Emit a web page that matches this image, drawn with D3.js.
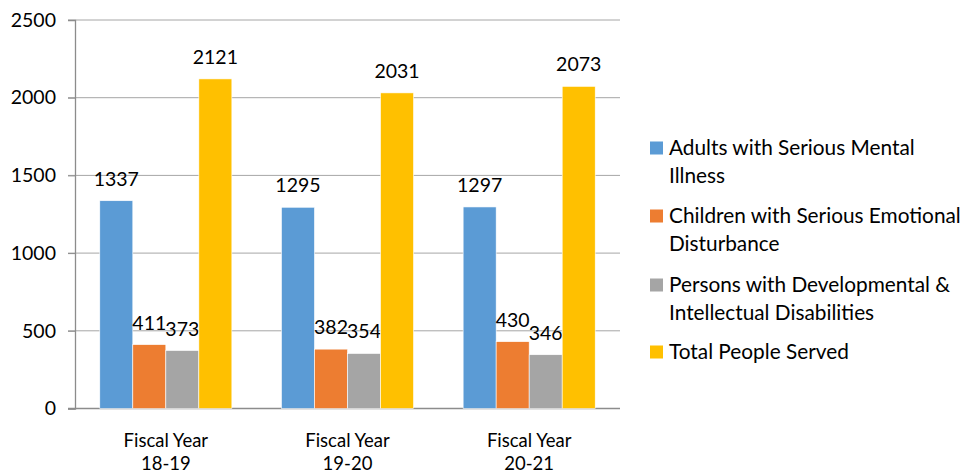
<!DOCTYPE html>
<html>
<head>
<meta charset="utf-8">
<script src="https://cdn.jsdelivr.net/npm/d3@7"></script>
<style>
  body { margin: 0; background: #fff; }
  text { font-family: Lato, "Open Sans", sans-serif; fill: #000; }
</style>
</head>
<body>
<script>
// data
var categories = [["Fiscal Year", "18-19"], ["Fiscal Year", "19-20"], ["Fiscal Year", "20-21"]];
var seriesNames = [
    ["Adults with Serious Mental", "Illness"],
    ["Children with Serious Emotional", "Disturbance"],
    ["Persons with Developmental &", "Intellectual Disabilities"],
    ["Total People Served"]
];
var adults = [1337, 1295, 1297];
var children = [411, 382, 430];
var persons = [373, 354, 346];
var totals = [2121, 2031, 2073];
var yTicks = [0, 500, 1000, 1500, 2000, 2500];
var colors = ["#5B9BD5", "#ED7D31", "#A5A5A5", "#FFC000"];

var series = [adults, children, persons, totals];

var width = 966;
var height = 475;

var margin = {
    top: 20,
    bottom: 66.5,
    left: 75,
    right: 346
};

var svg = d3.select("body")
    .append("svg")
    .attr("width", width)
    .attr("height", height);

var innerW = width - margin.left - margin.right;
var innerH = height - margin.top - margin.bottom;

var g = svg.append("g")
    .attr("transform", "translate(" + margin.left + "," + margin.top + ")");

var x0 = d3.scaleBand()
    .domain(d3.range(categories.length))
    .range([0, innerW])
    .paddingInner(0.273)
    .paddingOuter(0.1365);

var x1 = d3.scaleBand()
    .domain(d3.range(series.length))
    .range([0, x0.bandwidth()]);

var y = d3.scaleLinear()
    .domain([0, 2500])
    .range([innerH, 0]);

// gridlines
g.selectAll(".grid")
    .data(yTicks.slice(1))
    .enter().append("line")
    .attr("class", "grid")
    .attr("x1", -7)
    .attr("x2", innerW)
    .attr("y1", function(d) { return y(d); })
    .attr("y2", function(d) { return y(d); })
    .attr("stroke", "#a6a6a6")
    .attr("stroke-width", 1);

// y axis
var yAxis = g.append("g")
    .call(d3.axisLeft(y).tickValues(yTicks).tickFormat(d3.format("d")).tickSize(7).tickPadding(12));
yAxis.select(".domain").attr("stroke", "#8c8c8c").attr("stroke-width", 1.3);
yAxis.selectAll(".tick line").attr("stroke", "#8c8c8c");
yAxis.selectAll(".tick text")
    .attr("font-size", "19.5px")
    .attr("font-family", "Lato, sans-serif")
    .attr("fill", "#000");

// baseline
g.append("line")
    .attr("x1", -7)
    .attr("x2", innerW)
    .attr("y1", innerH)
    .attr("y2", innerH)
    .attr("stroke", "#8c8c8c")
    .attr("stroke-width", 1.3);

// bars
var groups = g.selectAll(".group")
    .data(categories)
    .enter().append("g")
    .attr("class", "group")
    .attr("transform", function(d, i) { return "translate(" + x0(i) + ",0)"; });

groups.each(function(c, ci) {
    var grp = d3.select(this);
    series.forEach(function(s, si) {
        grp.append("rect")
            .attr("x", x1(si))
            .attr("y", y(s[ci]))
            .attr("width", x1.bandwidth())
            .attr("height", innerH - y(s[ci]))
            .attr("fill", colors[si])
            .attr("stroke", "#fff")
            .attr("stroke-width", 0.6);
        grp.append("text")
            .attr("x", x1(si) + x1.bandwidth() / 2)
            .attr("y", y(s[ci]) - 15)
            .attr("text-anchor", "middle")
            .attr("font-size", "19.5px")
            .text(s[ci]);
    });
});

// x labels
groups.each(function(c, ci) {
    var t = d3.select(this).append("text")
        .attr("text-anchor", "middle")
        .attr("font-size", "18.5px");
    c.forEach(function(line, li) {
        t.append("tspan")
            .attr("x", x0.bandwidth() / 2)
            .attr("y", innerH + 38.5 + li * 23)
            .text(line);
    });
});

// legend
var legendY = [148, 216, 285, 352];
var legend = svg.append("g")
    .attr("transform", "translate(650,0)");

seriesNames.forEach(function(lines, i) {
    legend.append("rect")
        .attr("x", 0)
        .attr("y", legendY[i] - 6.5)
        .attr("width", 13)
        .attr("height", 13)
        .attr("fill", colors[i]);
    var t = legend.append("text")
        .attr("font-size", "20.8px");
    lines.forEach(function(line, li) {
        t.append("tspan")
            .attr("x", 19)
            .attr("y", legendY[i] + 7 + li * 28)
            .text(line);
    });
});
</script>
</body>
</html>
